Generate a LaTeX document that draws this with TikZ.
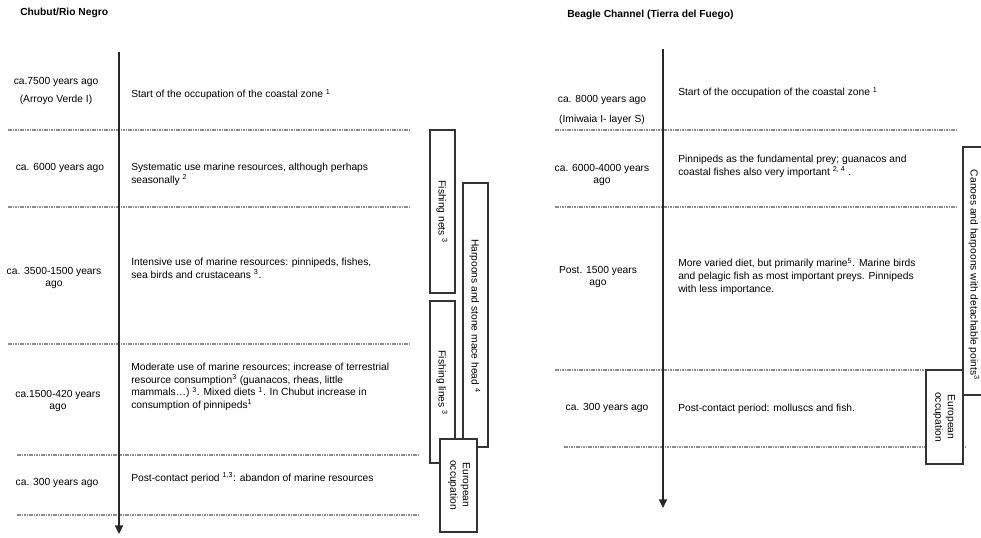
\documentclass[tikz,border=0pt]{standalone}
\usepackage{fontspec}
\setmainfont{Liberation Sans}
\usetikzlibrary{arrows.meta}
\begin{document}
\begin{tikzpicture}[x=0.75pt,y=-0.75pt,font=\fontsize{7.7}{9.4}\selectfont,head/.style={anchor=west,inner sep=0pt,font=\fontsize{7.7}{9.4}\selectfont\bfseries},era/.style={align=center,inner sep=0pt},note/.style={align=left,anchor=north west,inner sep=0pt},tool/.style={rotate=-90,align=center,inner sep=0pt},toolbox/.style={draw=black!80,line width=0.9pt,fill=white},sep/.style={draw=black!45,line width=1pt,dash pattern=on 1.2pt off 0.6pt},axis/.style={draw=black!85,line width=1.1pt,-{Triangle[width=6pt,length=6.5pt]}}]
\useasboundingbox (0,0) rectangle (981,537);
\clip (0,0) rectangle (981,537);
\def\tl{131};
\def\tr{678};

% Chubut/Rio Negro
\node[head] (CH) at (20,13) {Chubut/Rio Negro};

\draw[sep] (8,130) -- (410,130);
\draw[sep] (8,207) -- (410,207);
\draw[sep] (8,344) -- (410,344);
\draw[sep] (17,455) -- (418,455);
\draw[sep] (17,515) -- (418,515);

\coordinate (Ltop) at (119,52);
\coordinate (Lend) at (119,534);
\draw[axis] (Ltop) -- (Lend);

\node[era] (L1) at (56,91) {ca.7500 years ago\\[4pt](Arroyo Verde I)};
\node[era] (L2) at (60,168) {ca. 6000 years ago};
\node[era] (L3) at (54,278) {ca. 3500-1500 years\\ago};
\node[era] (L4) at (58,401) {ca.1500-420 years\\ago};
\node[era] (L5) at (57,483) {ca. 300 years ago};

\node[note] (T1) at (\tl,89) {Start of the occupation of the coastal zone \textsuperscript{1}};
\node[note] (T2) at (\tl,163) {Systematic use marine resources, although perhaps\\seasonally \textsuperscript{2}};
\node[note] (T3) at (\tl,258) {Intensive use of marine resources: pinnipeds, fishes,\\sea birds and crustaceans \textsuperscript{3}.};
\node[note] (T4) at (\tl,363) {Moderate use of marine resources; increase of terrestrial\\resource consumption\textsuperscript{3} (guanacos, rheas, little\\mammals…) \textsuperscript{3}. Mixed diets \textsuperscript{1}. In Chubut increase in\\consumption of pinnipeds\textsuperscript{1}};
\node[note] (T5) at (\tl,472) {Post-contact period \textsuperscript{1,3}: abandon of marine resources};

\draw[toolbox] (430,130) rectangle (455,293);
\node[tool] (nets) at (442,212) {Fishing nets \textsuperscript{3}};
\draw[toolbox] (463,183) rectangle (488,447);
\node[tool] (harp) at (475,316) {Harpoons and stone mace head \textsuperscript{4}};
\draw[toolbox] (430,301) rectangle (455,463);
\node[tool] (lines) at (442,383) {Fishing lines \textsuperscript{3}};
\draw[toolbox] (440,439) rectangle (477,532);
\node[tool] (euL) at (459,485) {European\\occupation};

% Beagle Channel
\node[head] (BC) at (567,15) {Beagle Channel (Tierra del Fuego)};

\draw[sep] (555,130) -- (957,130);
\draw[sep] (555,207) -- (957,207);
\draw[sep] (555,370) -- (963,370);
\draw[sep] (564,447) -- (966,447);

\coordinate (Rtop) at (663,49);
\coordinate (Rend) at (663,508);
\draw[axis] (Rtop) -- (Rend);

\node[era] (R1) at (602,110) {ca. 8000 years ago\\[5pt](Imiwaia I- layer S)};
\node[era] (R2) at (602,175) {ca. 6000-4000 years\\ago};
\node[era] (R3) at (598,277) {Post. 1500 years\\ago};
\node[era] (R4) at (607,408) {ca. 300 years ago};

\node[note] (U1) at (\tr,87) {Start of the occupation of the coastal zone \textsuperscript{1}};
\node[note] (U2) at (\tr,155) {Pinnipeds as the fundamental prey; guanacos and\\coastal fishes also very important \textsuperscript{2, 4} .};
\node[note] (U3) at (\tr,258) {More varied diet, but primarily marine\textsuperscript{5}. Marine birds\\and pelagic fish as most important preys. Pinnipeds\\with less importance.};
\node[note] (U4) at (\tr,404) {Post-contact period: molluscs and fish.};

\draw[toolbox] (963,147) rectangle (995,395);
\node[tool] (canoe) at (974,275) {Canoes and harpoons with detachable points\textsuperscript{3}};
\draw[toolbox] (926,370) rectangle (963,464);
\node[tool] (euR) at (944,417) {European\\occupation};
\end{tikzpicture}
\end{document}
